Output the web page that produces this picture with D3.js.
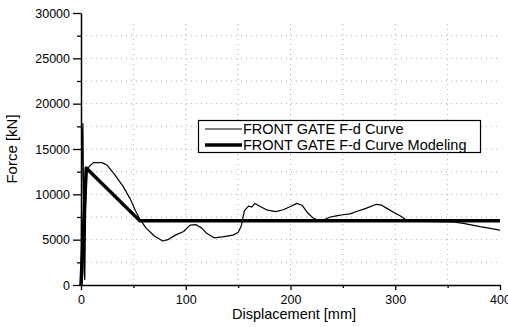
<!DOCTYPE html>
<html>
<head>
<meta charset="utf-8">
<script src="https://cdn.jsdelivr.net/npm/d3@7"></script>
<style>
html,body{margin:0;padding:0;background:#fff;}
svg{display:block;font-family:"Liberation Sans",Arial,sans-serif;}
</style>
</head>
<body>
<div id="chart"></div>
<script>
// ---- data ----
const curveDisp  = [0,1,1.8,2.5,3,3.6,4.5,5.5,8,12,20,25,32,40,47,52,56,62,70,78,83,90,98,104,110,115,120,127,135,145,150,153,156,160,163,166,172,178,186,193,200,206,211,216,222,226,232,238,245,250,257,263,272,282,287,292,298,305,311,320,340,355,365,381,400];
const curveForce = [0,15000,17800,9000,1500,600,9000,12600,13100,13500,13500,13200,12200,10900,9500,8200,7300,6300,5400,4850,5000,5500,5900,6600,6650,6300,5700,5200,5300,5500,5800,6500,8200,8700,8600,9000,8600,8250,8100,8300,8650,9000,8800,8000,7350,7150,7200,7500,7650,7750,7850,8100,8450,8900,8800,8450,8050,7600,7150,7050,7000,6950,6800,6430,6050];
const modelDisp  = [0,5,56,400];
const modelForce = [0,12900,7100,7100];
const xMajorTicks = [0,100,200,300,400];
const xMinorTicks = [50,150,250,350];
const yMajorTicks = [0,5000,10000,15000,20000,25000,30000];
const yMinorTicks = [2500,7500,12500,17500,22500,27500];
const seriesNames = ["FRONT GATE F-d Curve","FRONT GATE F-d Curve Modeling"];
const xTitle = "Displacement [mm]";
const yTitle = "Force [kN]";

const W = 508, H = 327;
const L = 81, R = 500, T = 13, B = 285;

const svg = d3.select("#chart").append("svg").attr("width", W).attr("height", H);
svg.append("rect").attr("width", W).attr("height", H).attr("fill", "#fff");

const x = d3.scaleLinear().domain([0,400]).range([L,R]);
const y = d3.scaleLinear().domain([0,30000]).range([B,T]);

// grid
const grid = svg.append("g").attr("stroke", "#9a9a9a").attr("stroke-width", 0.8).attr("stroke-dasharray", "1,4");
xMajorTicks.concat(xMinorTicks).filter(d => d > 0 && d < 400).forEach(d => {
  grid.append("line").attr("x1", x(d)).attr("x2", x(d)).attr("y1", y(0)).attr("y2", y(30000) + 8);
});
yMajorTicks.concat(yMinorTicks).filter(d => d > 0 && d < 30000).forEach(d => {
  grid.append("line").attr("x1", x(0)).attr("x2", x(400)).attr("y1", y(d)).attr("y2", y(d));
});

// lines
const line = d3.line().x(d => x(d[0])).y(d => y(d[1]));
svg.append("path").datum(curveDisp.map((d,i) => [d, curveForce[i]]))
  .attr("d", line).attr("fill", "none").attr("stroke", "#000").attr("stroke-width", 1.2).attr("stroke-linejoin", "round");
svg.append("path").datum(modelDisp.map((d,i) => [d, modelForce[i]]))
  .attr("d", line).attr("fill", "none").attr("stroke", "#000").attr("stroke-width", 3.5).attr("stroke-linejoin", "round");

// axes
function styleAxis(g){
  g.select(".domain").attr("stroke", "#000").attr("stroke-width", 1.5);
  g.selectAll(".tick line").attr("stroke", "#000").attr("stroke-width", 1.3);
  g.selectAll(".tick text").attr("fill", "#000").style("font-size", "12.5px").style("font-family", '"Liberation Sans",Arial,sans-serif');
}
const gxMinor = svg.append("g").attr("transform", `translate(0,${B})`)
  .call(d3.axisBottom(x).tickValues(xMinorTicks).tickSize(3).tickFormat(""));
styleAxis(gxMinor); gxMinor.select(".domain").remove();
const gx = svg.append("g").attr("transform", `translate(0,${B})`)
  .call(d3.axisBottom(x).tickValues(xMajorTicks).tickSize(5).tickPadding(5).tickSizeOuter(0).tickFormat(d3.format("d")));
styleAxis(gx);

const gyMinor = svg.append("g").attr("transform", `translate(${L},0)`)
  .call(d3.axisLeft(y).tickValues(yMinorTicks).tickSize(4).tickFormat(""));
styleAxis(gyMinor); gyMinor.select(".domain").remove();
const gy = svg.append("g").attr("transform", `translate(${L},0)`)
  .call(d3.axisLeft(y).tickValues(yMajorTicks).tickSize(8).tickPadding(3).tickSizeOuter(0).tickFormat(d3.format("d")));
styleAxis(gy);

// titles
svg.append("text").attr("x", 294).attr("y", 319).attr("text-anchor", "middle")
  .style("font-size", "14.5px").attr("fill", "#000").text(xTitle);
svg.append("text").attr("transform", `translate(17,${(T+B)/2}) rotate(-90)`).attr("text-anchor", "middle")
  .style("font-size", "15px").attr("fill", "#000").text(yTitle);

// legend
const lg = svg.append("g");
lg.append("rect").attr("x", 198.5).attr("y", 120.5).attr("width", 282).attr("height", 32)
  .attr("fill", "#fff").attr("stroke", "#000").attr("stroke-width", 1.2);
const rowsY = [129, 145];
const widths = [1.2, 3.5];
seriesNames.forEach((name, i) => {
  lg.append("line").attr("x1", 205).attr("x2", 242).attr("y1", rowsY[i]).attr("y2", rowsY[i])
    .attr("stroke", "#000").attr("stroke-width", widths[i]);
  lg.append("text").attr("x", 243).attr("y", rowsY[i] + 5).style("font-size", "14.5px")
    .attr("fill", "#000").text(name);
});
</script>
</body>
</html>
